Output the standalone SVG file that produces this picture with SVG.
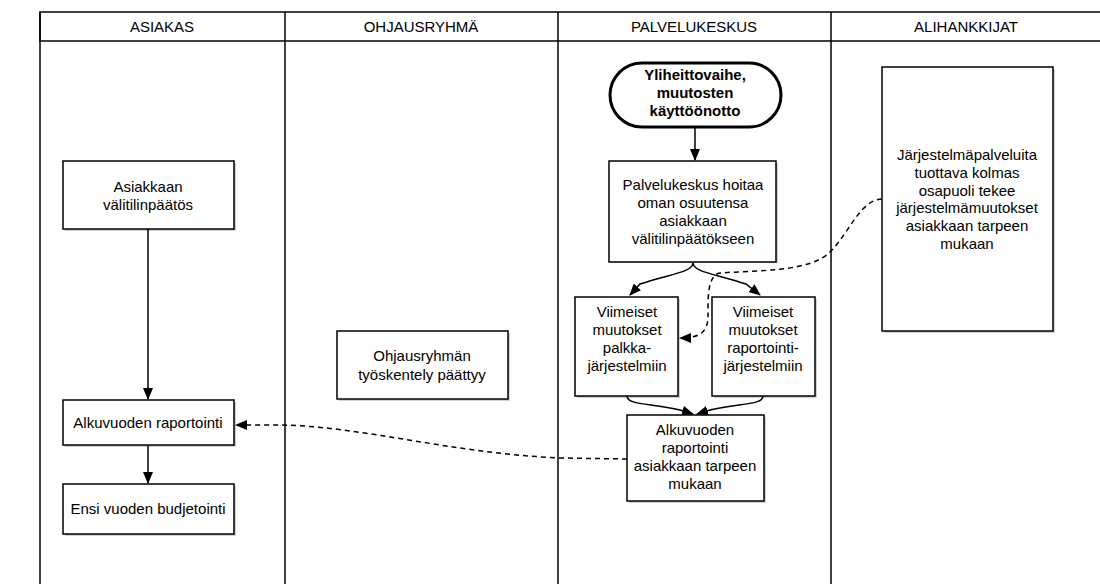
<svg xmlns="http://www.w3.org/2000/svg" width="1100" height="584" viewBox="0 0 1100 584">
<style>
.lane{fill:none;stroke:#000;stroke-width:1.5}
.hdr{font-family:"Liberation Sans",Arial,sans-serif;font-size:15px;fill:#000;text-anchor:middle}
.box{fill:#fff;stroke:#000;stroke-width:1.5}
.sh{fill:#000;opacity:0.18}
.t{font-family:"Liberation Sans",Arial,sans-serif;font-size:15px;fill:#000;text-anchor:middle}
.tb{font-family:"Liberation Sans",Arial,sans-serif;font-size:15px;font-weight:bold;fill:#000;text-anchor:middle}
.c{fill:none;stroke:#000;stroke-width:1.5}
.d{fill:none;stroke:#000;stroke-width:1.5;stroke-dasharray:5,4}
</style>
<defs>
<marker id="ah" markerWidth="12" markerHeight="10" refX="11" refY="5" orient="auto" markerUnits="userSpaceOnUse">
<path d="M0,0 L12,5 L0,10 Z" fill="#000"/>
</marker>
</defs>
<rect width="1100" height="584" fill="#fff"/>
<g id="lanes">
<rect class="lane" x="40" y="12" width="1070" height="29"/>
<line class="lane" x1="40" y1="12" x2="40" y2="584"/>
<line class="lane" x1="285" y1="12" x2="285" y2="584"/>
<line class="lane" x1="558" y1="12" x2="558" y2="584"/>
<line class="lane" x1="831" y1="12" x2="831" y2="584"/>
<text class="hdr" x="162" y="32">ASIAKAS</text>
<text class="hdr" x="421" y="32">OHJAUSRYHMÄ</text>
<text class="hdr" x="694" y="32">PALVELUKESKUS</text>
<text class="hdr" x="966" y="32">ALIHANKKIJAT</text>
</g>
<g id="connectors">
<path class="c" d="M695,128 L695,160" marker-end="url(#ah)"/>
<path class="c" d="M693,263 C693,272 670,274 640,284 L630,295" marker-end="url(#ah)"/>
<path class="c" d="M693,263 C693,272 716,274 746,284 L760,295" marker-end="url(#ah)"/>
<path class="c" d="M627,396 C627,405 650,403 680,410 L693,414" marker-end="url(#ah)"/>
<path class="c" d="M763,396 C763,405 740,403 710,410 L697,414" marker-end="url(#ah)"/>
<path class="c" d="M148,229 L148,399" marker-end="url(#ah)"/>
<path class="c" d="M148,446 L148,483" marker-end="url(#ah)"/>
<path class="d" d="M627,459 L560,458 C450,453 360,426 280,425 L236,425" marker-end="url(#ah)"/>
<path class="d" d="M882,199 C860,200 850,232 830,252 C810,272 760,270 720,273 C707,275 708,300 708,316 C708,332 700,338 680,338" marker-end="url(#ah)"/>
</g>
<g id="n1">
<rect class="sh" x="65" y="163" width="171" height="68"/>
<rect class="box" x="63" y="161" width="171" height="68"/>
<text class="t" x="148" y="192">Asiakkaan</text>
<text class="t" x="148" y="210">välitilinpäätös</text>
</g>
<g id="n2">
<rect class="sh" x="65" y="402" width="171" height="45"/>
<rect class="box" x="63" y="400" width="171" height="45"/>
<text class="t" x="148" y="428">Alkuvuoden raportointi</text>
</g>
<g id="n3">
<rect class="sh" x="65" y="486" width="171" height="50"/>
<rect class="box" x="63" y="484" width="171" height="50"/>
<text class="t" x="148" y="514">Ensi vuoden budjetointi</text>
</g>
<g id="n4">
<rect class="sh" x="339" y="333" width="171" height="68"/>
<rect class="box" x="337" y="331" width="171" height="68"/>
<text class="t" x="422" y="361">Ohjausryhmän</text>
<text class="t" x="422" y="380">työskentely päättyy</text>
</g>
<g id="n5">
<rect x="610" y="63" width="171" height="64" rx="32" ry="32" fill="#fff" stroke="#000" stroke-width="3"/>
<text class="tb" x="695" y="80">Yliheittovaihe,</text>
<text class="tb" x="695" y="98">muutosten</text>
<text class="tb" x="695" y="116">käyttöönotto</text>
</g>
<g id="n6">
<rect class="sh" x="611" y="163" width="167" height="100"/>
<rect class="box" x="609" y="161" width="167" height="101"/>
<text class="t" x="693" y="190">Palvelukeskus hoitaa</text>
<text class="t" x="693" y="208">oman osuutensa</text>
<text class="t" x="693" y="226">asiakkaan</text>
<text class="t" x="693" y="244">välitilinpäätökseen</text>
</g>
<g id="n7">
<rect class="sh" x="577" y="299" width="103" height="99"/>
<rect class="box" x="575" y="297" width="103" height="99"/>
<text class="t" x="627" y="317">Viimeiset</text>
<text class="t" x="627" y="335">muutokset</text>
<text class="t" x="627" y="353">palkka-</text>
<text class="t" x="627" y="371">järjestelmiin</text>
</g>
<g id="n8">
<rect class="sh" x="714" y="299" width="103" height="99"/>
<rect class="box" x="712" y="297" width="103" height="99"/>
<text class="t" x="763" y="317">Viimeiset</text>
<text class="t" x="763" y="335">muutokset</text>
<text class="t" x="763" y="353">raportointi-</text>
<text class="t" x="763" y="371">järjestelmiin</text>
</g>
<g id="n9">
<rect class="sh" x="629" y="417" width="137" height="86"/>
<rect class="box" x="627" y="415" width="137" height="86"/>
<text class="t" x="695" y="435">Alkuvuoden</text>
<text class="t" x="695" y="453">raportointi</text>
<text class="t" x="695" y="471">asiakkaan tarpeen</text>
<text class="t" x="695" y="489">mukaan</text>
</g>
<g id="n10">
<rect class="sh" x="884" y="69" width="171" height="264"/>
<rect class="box" x="882" y="67" width="171" height="264"/>
<text class="t" x="967" y="160">Järjestelmäpalveluita</text>
<text class="t" x="967" y="178">tuottava kolmas</text>
<text class="t" x="967" y="196">osapuoli tekee</text>
<text class="t" x="967" y="213">järjestelmämuutokset</text>
<text class="t" x="967" y="231">asiakkaan tarpeen</text>
<text class="t" x="967" y="249">mukaan</text>
</g>
</svg>
